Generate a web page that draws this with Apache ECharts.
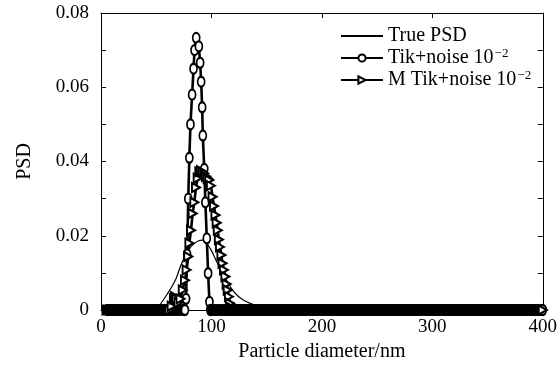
<!DOCTYPE html>
<html>
<head>
<meta charset="utf-8">
<script src="https://cdn.jsdelivr.net/npm/echarts@6/dist/echarts.min.js"></script>
<style>
  html, body { margin: 0; padding: 0; background: #fff; }
  #chart { width: 560px; height: 370px; }
</style>
</head>
<body>
<div id="chart"></div>
<script>
// nm values and PSD values
const truePsdNm = [5, 45, 50, 52, 56, 60, 64, 68, 72, 76, 80, 84, 88, 92, 96, 100, 104, 108, 112, 116, 120, 125, 130, 135, 140, 145, 150, 200, 400];
const truePsdVal = [0, 0, 0, 0.0008, 0.0025, 0.0043, 0.0062, 0.0085, 0.0118, 0.0145, 0.0165, 0.0178, 0.0186, 0.0188, 0.0178, 0.016, 0.0135, 0.011, 0.0087, 0.0068, 0.005, 0.0035, 0.0025, 0.0018, 0.0012, 0.0006, 0, 0, 0];

const tikPeakNm = [76, 77, 78, 79, 80, 81, 82.5, 83.8, 84.7, 86.2, 88.6, 89.8, 90.7, 91.6, 92.2, 93.5, 94.5, 95.8, 97, 98.2, 99];
const tikPeakVal = [0, 0.003, 0.015, 0.03, 0.041, 0.05, 0.058, 0.065, 0.07, 0.0733, 0.071, 0.0666, 0.0615, 0.0546, 0.047, 0.038, 0.029, 0.0193, 0.0099, 0.0022, 0];

const mtikPeakNm = [62, 64, 66, 67, 68, 70, 72, 74, 76, 77.5, 79, 80, 81.5, 83, 84.5, 86, 87.5, 89, 90.5, 92, 93.5, 95, 96.5, 98, 99.5, 101, 102.3, 103.6, 104.7, 105.7, 106.7, 107.7, 109, 110, 111.3, 112.6, 113.7, 114.7, 115.8, 116.8, 118, 119];
const mtikPeakVal = [0, 0.001, 0.003, 0.0036, 0.003, 0.002, 0.003, 0.0054, 0.008, 0.0108, 0.0144, 0.018, 0.0215, 0.026, 0.029, 0.033, 0.0355, 0.0372, 0.0375, 0.0372, 0.0368, 0.036, 0.0355, 0.035, 0.0335, 0.0305, 0.028, 0.0256, 0.0235, 0.0215, 0.019, 0.017, 0.0148, 0.0126, 0.0108, 0.009, 0.007, 0.0054, 0.0036, 0.0018, 0.0006, 0];

// both reconstructions sit at 0 outside their peaks, sampled on a fine grid
const baselineStartNm = 5;
const baselineEndNm = 400;
const baselineStepNm = 1.5;

const xTicks = [0, 100, 200, 300, 400];
const yTickLabels = ['0', '0.02', '0.04', '0.06', '0.08'];

function pairs(xs, ys) {
  return xs.map((x, i) => [x, ys[i]]);
}

// zero stretch: the markers pile up into a solid black band in the original
function withBaseline(xs, ys, bandSymbol, bandSize) {
  const lo = xs[0];
  const hi = xs[xs.length - 1];
  const band = (x) => ({ value: [x, 0], symbol: bandSymbol, symbolSize: bandSize });
  const pts = [];
  for (let x = baselineStartNm; x <= baselineEndNm + 1e-9; x += baselineStepNm) {
    if (x < lo) pts.push(band(x));
  }
  pts.push(...pairs(xs, ys));
  for (let x = baselineStartNm; x <= baselineEndNm + 1e-9; x += baselineStepNm) {
    if (x > hi) pts.push(band(x));
  }
  pts.push({ value: [baselineEndNm, 0] });
  return pts;
}

const FONT = 'Liberation Serif';

const chart = echarts.init(document.getElementById('chart'), null, { renderer: 'canvas' });

const axisCommon = {
  axisLine: { show: true, onZero: false, lineStyle: { color: '#000', width: 1 } },
  axisTick: { show: true, inside: true, length: 5, lineStyle: { color: '#000' } },
  splitLine: { show: false },
};

chart.setOption({
  animation: false,
  backgroundColor: '#fff',
  grid: { left: 101, right: 13, top: 13, bottom: 60 },
  legend: {
    orient: 'vertical',
    left: 335,
    top: 21,
    itemWidth: 42,
    itemHeight: 9,
    itemGap: 1,
    textStyle: {
      fontFamily: FONT,
      fontSize: 20,
      color: '#000',
      rich: {
        sup: { fontFamily: FONT, fontSize: 13, color: '#000', padding: [0, 0, 9, 1] },
      },
    },
    formatter: (name) => name.replace('10^-2', '10{sup|\u22122}'),
    data: [
      { name: 'True PSD', itemStyle: { opacity: 0 } },
      'Tik+noise 10^-2',
      'M Tik+noise 10^-2',
    ],
  },
  xAxis: [
    {
      ...axisCommon,
      type: 'value',
      min: xTicks[0],
      max: xTicks[xTicks.length - 1],
      interval: 100,
      name: 'Particle diameter/nm',
      nameLocation: 'middle',
      nameGap: 32,
      nameTextStyle: { fontFamily: FONT, fontSize: 20, color: '#000' },
      axisLabel: { fontFamily: FONT, fontSize: 19, color: '#000', margin: 8 },
    },
    {
      ...axisCommon,
      type: 'value',
      position: 'top',
      min: xTicks[0],
      max: xTicks[xTicks.length - 1],
      interval: 100,
      axisLabel: { show: false },
    },
  ],
  yAxis: [
    {
      ...axisCommon,
      type: 'value',
      min: 0,
      max: 0.08,
      interval: 0.01,
      name: 'PSD',
      nameLocation: 'middle',
      nameGap: 66,
      nameTextStyle: { fontFamily: FONT, fontSize: 20, color: '#000' },
      axisLabel: {
        fontFamily: FONT,
        fontSize: 19,
        color: '#000',
        margin: 12,
        formatter: (v) => {
          const k = Math.round(v * 100);
          return k % 2 === 0 ? yTickLabels[k / 2] : '';
        },
      },
    },
    {
      ...axisCommon,
      type: 'value',
      position: 'right',
      min: 0,
      max: 0.08,
      interval: 0.01,
      axisLabel: { show: false },
    },
  ],
  series: [
    {
      name: 'True PSD',
      type: 'line',
      data: pairs(truePsdNm, truePsdVal),
      smooth: 0.3,
      showSymbol: false,
      symbol: 'none',
      lineStyle: { color: '#000', width: 1.2 },
      itemStyle: { color: '#000' },
      clip: false,
    },
    {
      name: 'Tik+noise 10^-2',
      type: 'line',
      data: withBaseline(tikPeakNm, tikPeakVal, 'circle', [8, 12]),
      symbol: 'emptyCircle',
      symbolSize: [7, 10],
      lineStyle: { color: '#000', width: 2.6 },
      itemStyle: { color: '#000', borderWidth: 1.8 },
      clip: false,
    },
    {
      name: 'M Tik+noise 10^-2',
      type: 'line',
      data: withBaseline(mtikPeakNm, mtikPeakVal, 'triangle', [12, 10]),
      symbol: 'emptyTriangle',
      symbolRotate: -90,
      symbolSize: [9, 8],
      lineStyle: { color: '#000', width: 2.6 },
      itemStyle: { color: '#000', borderWidth: 1.6 },
      clip: false,
    },
  ],
});
</script>
</body>
</html>
